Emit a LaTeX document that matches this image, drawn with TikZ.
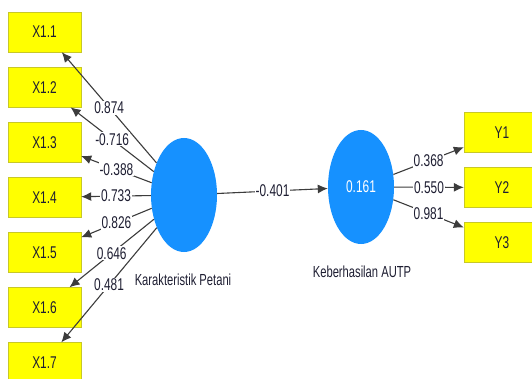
\documentclass[tikz,border=0pt]{standalone}
\usepackage{fontspec}
\setmainfont[FakeStretch=0.7]{Liberation Sans}
\usetikzlibrary{arrows.meta,shapes.geometric}
\definecolor{plsyellow}{RGB}{255,255,0}
\definecolor{plsborder}{RGB}{200,200,40}
\definecolor{plsblue}{RGB}{22,145,255}
\definecolor{plsline}{RGB}{60,60,60}
\definecolor{plstext}{RGB}{30,30,50}
\tikzset{indicator/.style={draw=plsborder,fill=plsyellow,minimum width=73pt,
		minimum height=40pt,inner sep=0pt,text=plstext,
		font=\fontsize{17}{19}\selectfont},
	latent/.style={ellipse,fill=plsblue,minimum width=66pt,minimum height=114pt,
		inner sep=0pt,text=white,font=\fontsize{17}{19}\selectfont},
	lvname/.style={text=plstext,font=\fontsize{16}{18}\selectfont},
	loading/.style={draw=plsline,line width=1.1pt,-{Latex[length=10pt,width=9pt]}},
	weight/.style={fill=white,inner sep=1pt,text=plstext,
		font=\fontsize{17}{19}\selectfont}}
\begin{document}
\begin{tikzpicture}[x=1pt,y=-1pt]
	\useasboundingbox (0,0) rectangle (532,379);
	% latent variables
	\node[latent] (kp) at (184,195) {};
	\node[lvname] (kpname) at (183,280) {Karakteristik Petani};
	\node[latent] (ka) at (361,187) {0.161};
	\node[lvname] (kaname) at (362,272) {Keberhasilan AUTP};
	% indicators
	\foreach \i in {1,...,7}
		\node[indicator] (x1\i) at (44.5,{32+55.1*(\i-1)}) {X1.\i};
	\foreach \i in {1,2,3}
		\node[indicator,minimum width=76pt] (y\i) at (502,{132.5+55*(\i-1)}) {Y\i};
	% outer loadings
	\foreach \i/\w in {1/0.874,2/-0.716,3/-0.388,4/0.733,5/0.826,6/0.646,7/0.481}
		\draw[loading] (kp) -- node[weight]{\w} (x1\i);
	\foreach \i/\w in {1/0.368,2/0.550,3/0.981}
		\draw[loading] (ka) -- node[weight]{\w} (y\i);
	% path coefficient
	\draw[loading] (kp) -- node[weight]{-0.401} (ka);
\end{tikzpicture}
\end{document}
